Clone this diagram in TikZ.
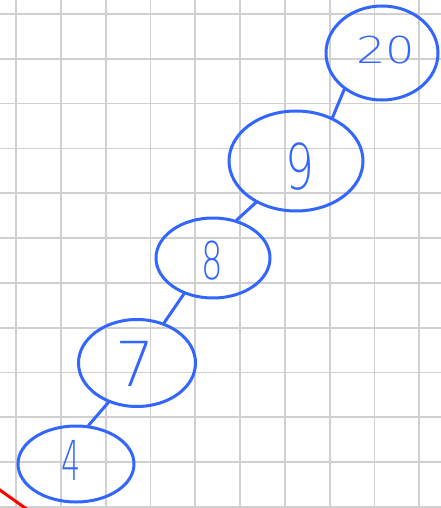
\documentclass[tikz,border=0pt]{standalone}
\usepackage{fontspec}
\usetikzlibrary{shapes.geometric}
\newfontfamily\handfont{DejaVu Sans ExtraLight}
\definecolor{inkblue}{RGB}{51,102,255}
\definecolor{gridgray}{RGB}{208,208,208}
\tikzset{
  gridline/.style={draw=gridgray, line width=1.8pt},
  bub/.style={ellipse, draw=inkblue, line width=3pt, inner sep=0pt},
  edge/.style={draw=inkblue, line width=3pt, line cap=round},
  lab/.style={text=inkblue, inner sep=0pt, font=\handfont},
}
\begin{document}
\begin{tikzpicture}[x=1pt, y=-1pt]
\useasboundingbox (0,0) rectangle (440,508);
\fill[white] (0,0) rectangle (440,508);
% grid
\foreach \i in {0,...,9} {
  \draw[gridline] ({16+44.8*\i},-2) -- ({16+44.8*\i},510);
}
\foreach \j in {0,...,11} {
  \draw[gridline] (-2,{14+44.8*\j}) -- (442,{14+44.8*\j});
}
% red stroke
\draw[red, line width=3pt] (-3,488) -- (28,510);
% nodes
\node[bub, minimum width=112pt, minimum height=94pt] (n20) at (382,53) {};
\node[bub, minimum width=134pt, minimum height=100pt] (n9) at (296,161) {};
\node[bub, minimum width=114pt, minimum height=80pt] (n8) at (213,258) {};
\node[bub, minimum width=117pt, minimum height=87pt] (n7) at (137,363) {};
\node[bub, minimum width=116pt, minimum height=76pt] (n4) at (76,464) {};
% labels
\node[lab, font=\handfont\fontsize{37}{37}\selectfont] (l20) at (386,50) {\scalebox{1.25}[1]{20}};
\node[lab, font=\handfont\fontsize{63}{63}\selectfont] (l9) at (300,167) {\scalebox{0.72}[1]{9}};
\node[lab, font=\handfont\fontsize{52}{52}\selectfont] (l8) at (212,261) {\scalebox{0.65}[1]{8}};
\node[lab, font=\handfont\fontsize{62}{62}\selectfont] (l7) at (135,364) {7};
\node[lab, font=\handfont\fontsize{55}{55}\selectfont] (l4) at (71,460) {\scalebox{0.55}[1]{4}};
% edges
\draw[edge] (n20.224) -- (n9.50);
\draw[edge] (n9.226) -- (n8.58);
\draw[edge] (n8.231) -- (n7.56);
\draw[edge] (n7.234) -- (n4.72);
\end{tikzpicture}
\end{document}
